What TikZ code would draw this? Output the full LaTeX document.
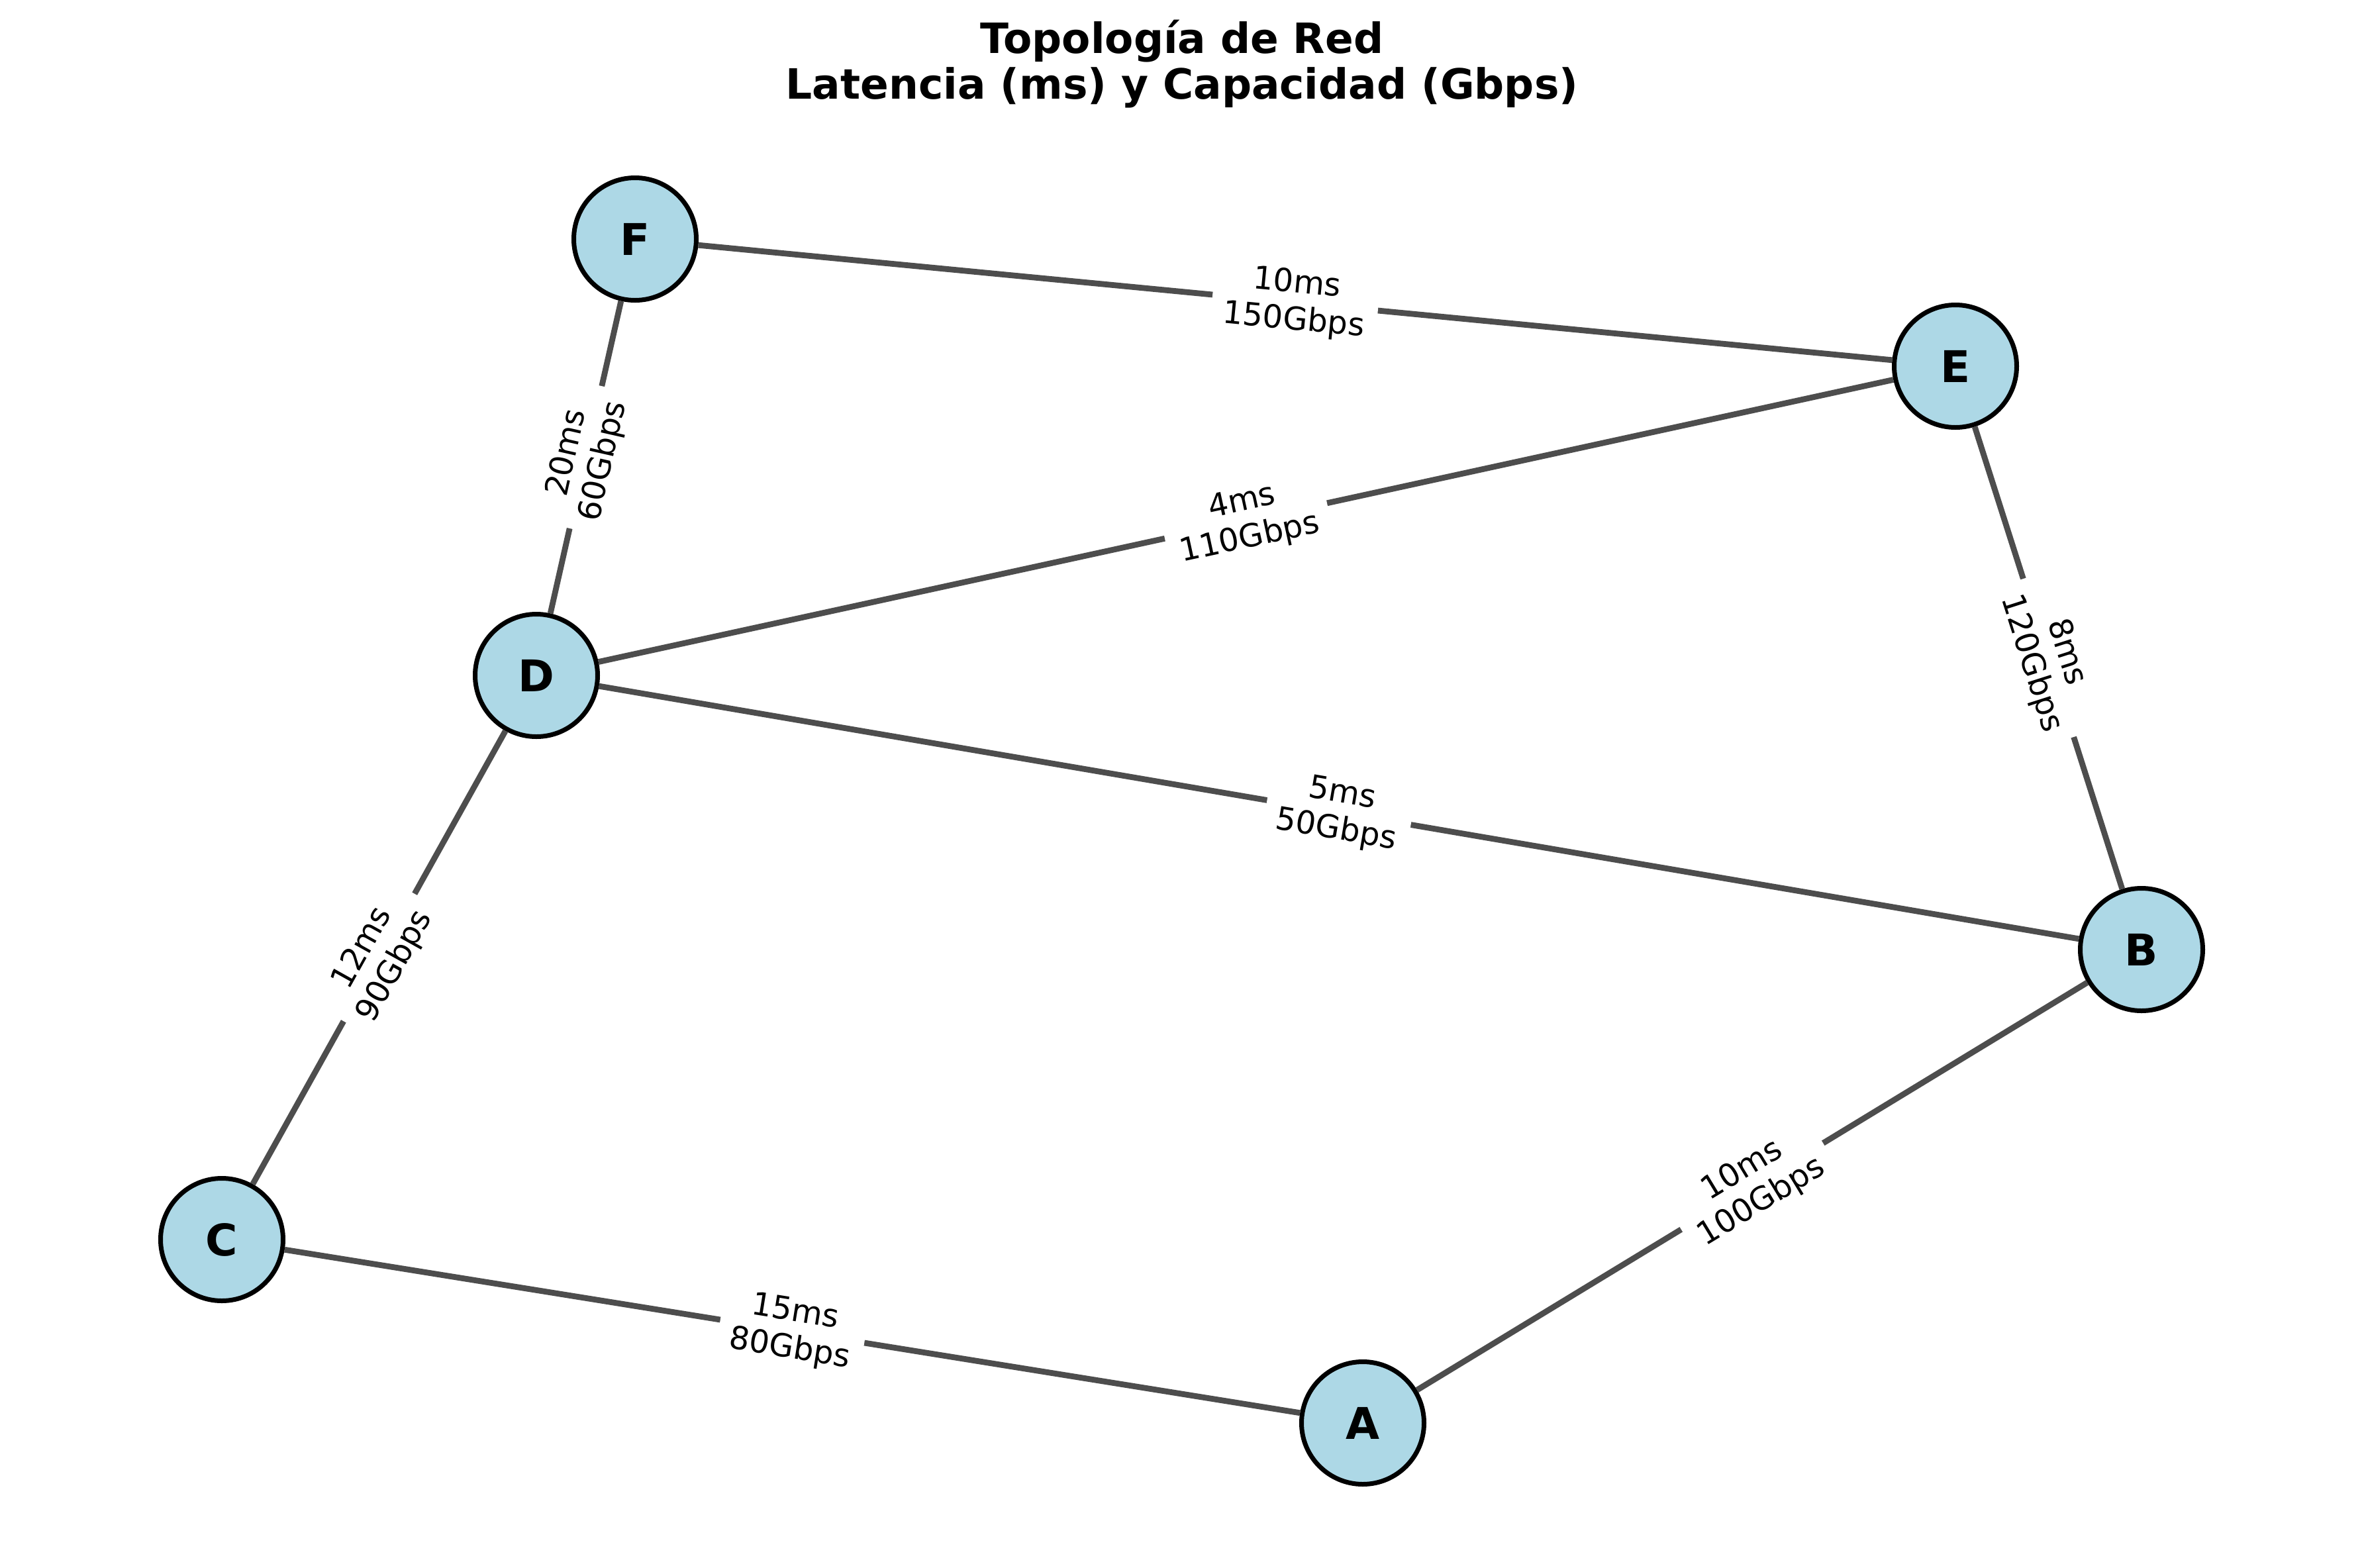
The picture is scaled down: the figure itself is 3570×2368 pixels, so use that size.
\documentclass[tikz,border=0pt]{standalone}
\usepackage{fontspec}
\setmainfont{DejaVu Sans}
\definecolor{nodeblue}{HTML}{ADD8E6}
\definecolor{edgegray}{HTML}{4D4D4D}
\begin{document}
\begin{tikzpicture}[x=0.25pt,y=-0.25pt,
  vertex/.style={circle,draw=black,line width=1.75pt,fill=nodeblue,minimum size=46.25pt,inner sep=0pt,font=\fontsize{16.5}{19}\selectfont\bfseries},
  link/.style={draw=edgegray,line width=2.2pt},
  elabel/.style={midway,sloped,fill=white,inner xsep=4.5pt,inner ysep=2.5pt,align=center,font=\fontsize{12}{14}\selectfont},
  titletext/.style={anchor=base,inner sep=0pt,font=\fontsize{15.75}{17.25}\selectfont\bfseries}]
\useasboundingbox (0,0) rectangle (3570,2368);
\node[titletext] (title1) at (1785,80) {Topología de Red};
\node[titletext] (title2) at (1785,149) {Latencia (ms) y Capacidad (Gbps)};
\node[vertex] (F) at (959,361) {F};
\node[vertex] (E) at (2953,553) {E};
\node[vertex] (D) at (810,1020) {D};
\node[vertex] (B) at (3234,1434) {B};
\node[vertex] (C) at (335,1872) {C};
\node[vertex] (A) at (2058,2149) {A};
\draw[link] (F) -- (E) node[elabel] {10ms\\150Gbps};
\draw[link] (F) -- (D) node[elabel] {20ms\\60Gbps};
\draw[link] (D) -- (E) node[elabel] {4ms\\110Gbps};
\draw[link] (E) -- (B) node[elabel] {8ms\\120Gbps};
\draw[link] (D) -- (B) node[elabel] {5ms\\50Gbps};
\draw[link] (D) -- (C) node[elabel] {12ms\\90Gbps};
\draw[link] (C) -- (A) node[elabel] {15ms\\80Gbps};
\draw[link] (A) -- (B) node[elabel] {10ms\\100Gbps};
\end{tikzpicture}
\end{document}
